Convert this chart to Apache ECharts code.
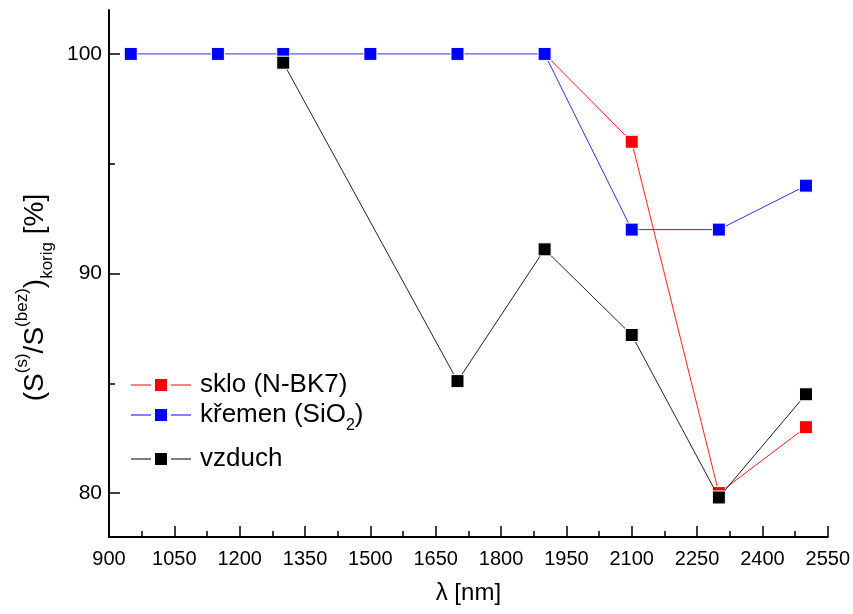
<!DOCTYPE html>
<html>
<head>
<meta charset="utf-8">
<script src="https://cdn.jsdelivr.net/npm/echarts@6/dist/echarts.min.js"></script>
<style>
  html, body { margin: 0; padding: 0; background: #fff; }
  #chart { width: 853px; height: 614px; }
</style>
</head>
<body>
<div id="chart"></div>
<script>
// Wavelengths (nm)
const wavelengths = [950, 1150, 1300, 1500, 1700, 1900, 2100, 2300, 2500];
// Relative corrected signal (%) for each sample
const skloWavelengths = [1900, 2100, 2300, 2500];
const skloValues      = [100, 96.0, 80.0, 83.0];
const kremenValues    = [100, 100, 100, 100, 100, 100, 92.0, 92.0, 94.0];
const vzduchWavelengths = [1300, 1700, 1900, 2100, 2300, 2500];
const vzduchValues      = [99.6, 85.1, 91.1, 87.2, 79.8, 84.5];

// Axis ticks
const yMajorTicks = [80, 90, 100];
const yMinorTicks = [85, 95];

const FONT = 'Liberation Sans, Arial, sans-serif';

function pairs(xs, ys) {
  return xs.map((x, i) => [x, ys[i]]);
}

// Legend icon: line segment, square marker, line segment
const legendIcon = 'path://M0,5.5h20v1h-20zM24,0h12v12h-12zM40,5.5h20v1h-20z';

function legendAt(name, top) {
  return {
    data: [{ name: name, icon: legendIcon }],
    left: 131,
    top: top,
    orient: 'vertical',
    itemWidth: 60,
    itemHeight: 12,
    itemGap: 0,
    padding: 0,
    selectedMode: false,
    itemStyle: { borderWidth: 0 },
    textStyle: {
      fontFamily: FONT,
      fontSize: 26,
      color: '#000',
      padding: [0, 0, 0, 4],
      rich: {
        sub: { fontFamily: FONT, fontSize: 16, color: '#000', verticalAlign: 'bottom', lineHeight: 38, padding: [15, 0, 0, 0] }
      }
    },
    formatter: function (n) {
      if (n === 'křemen (SiO2)') return 'křemen (SiO{sub|2})';
      return n;
    }
  };
}

const chart = echarts.init(document.getElementById('chart'), null, { renderer: 'canvas' });

const option = {
  animation: false,
  backgroundColor: '#fff',
  grid: { left: 109, right: 25, top: 10, bottom: 77, containLabel: false },
  legend: [
    legendAt('sklo (N-BK7)', 372),
    legendAt('křemen (SiO2)', 402),
    legendAt('vzduch', 446)
  ],
  xAxis: {
    type: 'value',
    min: 900,
    max: 2550,
    interval: 150,
    name: 'λ [nm]',
    nameLocation: 'middle',
    nameGap: 44,
    nameTextStyle: { fontFamily: FONT, fontSize: 24, color: '#000' },
    axisLine: { show: true, onZero: false, lineStyle: { color: '#000', width: 2 } },
    axisTick: { show: true, inside: true, length: 11, lineStyle: { color: '#000', width: 1.5 } },
    minorTick: { show: true, splitNumber: 2, length: 6, lineStyle: { color: '#000', width: 1.5 } },
    axisLabel: { fontFamily: FONT, fontSize: 20, color: '#000', margin: 12, formatter: v => String(v) },
    splitLine: { show: false },
    minorSplitLine: { show: false }
  },
  yAxis: [
    {
      type: 'value',
      min: 78,
      max: 102,
      name: '({b|S}{sup|(s)}{b|/S}{sup|(bez)}{b|)}{sub|korig}{b| [%]}',
      nameLocation: 'middle',
      nameRotate: 90,
      nameGap: 52,
      nameTextStyle: {
        fontFamily: FONT, fontSize: 28, color: '#000', lineHeight: 42,
        padding: [0, 48, 0, 0],
        rich: {
          b: { fontFamily: FONT, fontSize: 28, color: '#000', lineHeight: 42 },
          sup: { fontFamily: FONT, fontSize: 17, color: '#000', verticalAlign: 'top', lineHeight: 42, padding: [0, 0, 19, 0] },
          sub: { fontFamily: FONT, fontSize: 17, color: '#000', verticalAlign: 'bottom', lineHeight: 42, padding: [17, 0, 0, 0] }
        }
      },
      axisLine: { show: true, onZero: false, lineStyle: { color: '#000', width: 2 } },
      axisTick: { show: true, inside: true, length: 11, customValues: yMajorTicks, lineStyle: { color: '#000', width: 1.5 } },
      axisLabel: { fontFamily: FONT, fontSize: 21, color: '#000', margin: 7, customValues: yMajorTicks },
      splitLine: { show: false }
    },
    {
      type: 'value',
      min: 78,
      max: 102,
      position: 'left',
      axisLine: { show: false },
      axisTick: { show: true, inside: true, length: 6, customValues: yMinorTicks, lineStyle: { color: '#000', width: 1.5 } },
      axisLabel: { show: false },
      splitLine: { show: false }
    }
  ],
  series: [
    {
      name: 'sklo (N-BK7)',
      type: 'line',
      data: pairs(skloWavelengths, skloValues),
      symbol: 'rect',
      symbolSize: 13,
      itemStyle: { color: '#ff0000', borderColor: '#fff', borderWidth: 1 },
      lineStyle: { color: '#ff2020', width: 1 },
      z: 2
    },
    {
      name: 'křemen (SiO2)',
      type: 'line',
      data: pairs(wavelengths, kremenValues),
      symbol: 'rect',
      symbolSize: 13,
      itemStyle: { color: '#0000ff', borderColor: '#fff', borderWidth: 1 },
      lineStyle: { color: '#3030ff', width: 1 },
      z: 3
    },
    {
      name: 'vzduch',
      type: 'line',
      data: pairs(vzduchWavelengths, vzduchValues),
      symbol: 'rect',
      symbolSize: 13,
      itemStyle: { color: '#000000', borderColor: '#fff', borderWidth: 1 },
      lineStyle: { color: '#222', width: 1 },
      z: 4
    }
  ]
};

chart.setOption(option);
</script>
</body>
</html>
